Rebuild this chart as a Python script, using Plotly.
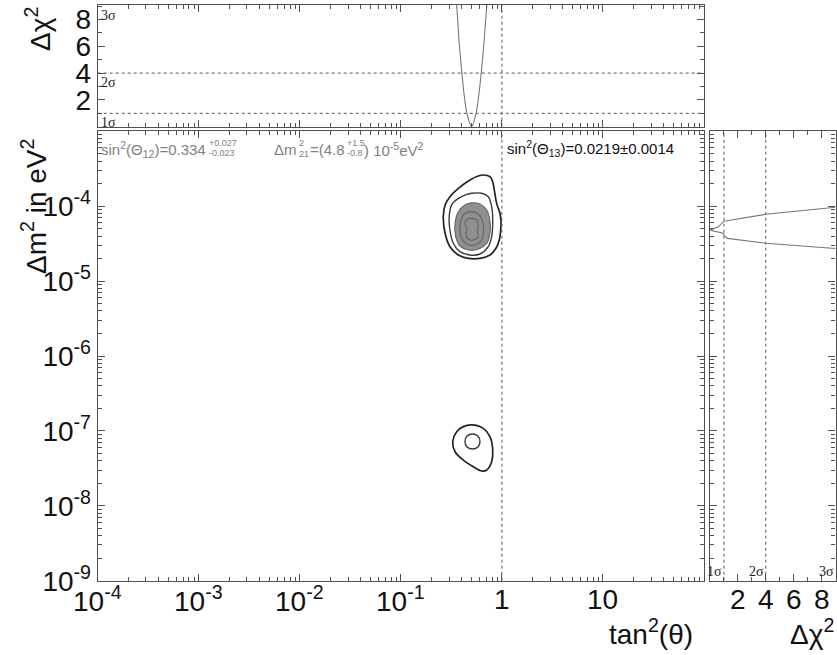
import math
import plotly.graph_objects as go

# ---- Δχ² profile versus tan²(θ) (top panel) ----
tan2_scan = [0.345, 0.357, 0.378, 0.402, 0.425, 0.451, 0.5015, 0.555, 0.588, 0.624, 0.664, 0.708, 0.725]
dchi2_tan = [10.0, 9.0, 6.25, 4.0, 2.25, 1.0, 0.0, 1.0, 2.25, 4.0, 6.25, 9.0, 10.0]

# ---- Δχ² profile versus Δm² (right panel) ----
dm2_scan = [2.72e-5, 3.2e-5, 3.72e-5, 4.0e-5, 4.35e-5, 4.8e-5, 5.3e-5, 5.9e-5, 6.3e-5, 7.8e-5, 9.7e-5]
dchi2_dm = [9.0, 4.0, 1.25, 1.05, 0.93, 0.0, 0.59, 0.83, 1.0, 4.0, 9.0]

# ---- allowed regions in the (tan²θ, Δm²) plane ----
# LMA island: outermost contour
c3_tan = [0.655, 0.762, 0.811, 0.841, 0.887, 0.957, 0.979, 0.973, 0.942, 0.875, 0.762, 0.607,
          0.465, 0.371, 0.306, 0.274, 0.263, 0.274, 0.306, 0.371, 0.483, 0.583, 0.655]
c3_dm = [2.61e-4, 2.48e-4, 2.12e-4, 1.64e-4, 1.09e-4, 8.04e-5, 6.21e-5, 4.81e-5, 3.54e-5, 2.74e-5,
         2.23e-5, 2.01e-5, 2.01e-5, 2.23e-5, 2.88e-5, 4.35e-5, 7.24e-5, 1.04e-4, 1.34e-4, 1.73e-4,
         2.24e-4, 2.53e-4, 2.61e-4]
# second contour
c2_tan = [0.502, 0.631, 0.733, 0.792, 0.811, 0.792, 0.733, 0.607, 0.483, 0.385, 0.330, 0.306,
          0.301, 0.318, 0.371, 0.449, 0.502]
c2_dm = [1.49e-4, 1.49e-4, 1.34e-4, 9.84e-5, 6.55e-5, 3.92e-5, 2.88e-5, 2.30e-5, 2.23e-5, 2.47e-5,
         3.20e-5, 4.81e-5, 7.24e-5, 1.04e-4, 1.27e-4, 1.44e-4, 1.49e-4]
# filled region
c1_tan = [0.502, 0.607, 0.708, 0.762, 0.762, 0.708, 0.583, 0.465, 0.385, 0.349, 0.344, 0.371, 0.431, 0.502]
c1_dm = [1.11e-4, 1.07e-4, 8.89e-5, 6.21e-5, 4.35e-5, 3.20e-5, 2.66e-5, 2.60e-5, 2.94e-5, 3.92e-5,
         5.92e-5, 8.45e-5, 1.04e-4, 1.11e-4]
# inner lines inside the filled region
ca_tan = [0.483, 0.583, 0.646, 0.655, 0.631, 0.542, 0.449, 0.400, 0.385, 0.400, 0.431, 0.483]
ca_dm = [8.45e-5, 7.87e-5, 6.21e-5, 4.57e-5, 3.54e-5, 3.03e-5, 3.13e-5, 3.72e-5, 5.07e-5, 6.89e-5, 8.04e-5, 8.45e-5]
cb_tan = [0.502, 0.564, 0.583, 0.571, 0.583, 0.521, 0.465, 0.442, 0.449, 0.431, 0.455, 0.502]
cb_dm = [6.89e-5, 6.55e-5, 5.32e-5, 4.57e-5, 3.92e-5, 3.54e-5, 3.61e-5, 4.12e-5, 5.07e-5, 5.92e-5, 6.68e-5, 6.89e-5]
# LOW island
lo_out_tan = [0.502, 0.655, 0.762, 0.811, 0.792, 0.708, 0.631, 0.521, 0.415, 0.344, 0.326, 0.357, 0.415, 0.502]
lo_out_dm = [1.20e-7, 1.08e-7, 8.37e-8, 5.56e-8, 3.88e-8, 3.01e-8, 2.92e-8, 3.33e-8, 4.08e-8, 5.27e-8,
             7.18e-8, 9.75e-8, 1.14e-7, 1.20e-7]
lo_in_tan = [0.512, 0.579, 0.607, 0.579, 0.512, 0.452, 0.431, 0.452, 0.512]
lo_in_dm = [9.1e-8, 8.55e-8, 7.21e-8, 6.1e-8, 5.73e-8, 6.1e-8, 7.21e-8, 8.55e-8, 9.1e-8]

# ---- reference levels and ticks ----
sigma_levels = [1, 4, 9]
sigma_names = ["1σ", "2σ", "3σ"]
x_tickvals = [1e-4, 1e-3, 1e-2, 1e-1, 1, 10]
x_ticktext = ["10<sup>-4</sup>", "10<sup>-3</sup>", "10<sup>-2</sup>", "10<sup>-1</sup>", "1", "10"]
y_tickvals = [1e-9, 1e-8, 1e-7, 1e-6, 1e-5, 1e-4]
y_ticktext = ["10<sup>-9</sup>", "10<sup>-8</sup>", "10<sup>-7</sup>", "10<sup>-6</sup>",
              "10<sup>-5</sup>", "10<sup>-4</sup>"]
chi_ticks = [2, 4, 6, 8]

W, H = 837, 655
FONT = "Liberation Sans, Arial, Helvetica, sans-serif"
SERIF = "Liberation Serif, Times New Roman, serif"
AX = "#505050"
INK = "#111111"


def px(xp):
    return xp / W


def py(yp):
    return 1 - yp / H


minor_x = [m * 10.0 ** e for e in range(-4, 2) for m in range(2, 10)]
minor_y = [m * 10.0 ** e for e in range(-9, -3) for m in range(2, 10)]

fig = go.Figure()

# main panel contours
fig.add_trace(go.Scatter(x=c1_tan, y=c1_dm, mode="lines", fill="toself", fillcolor="#8f8f8f",
                         line=dict(color="#6a6a6a", width=1.2, shape="spline"), xaxis="x", yaxis="y"))
for xs, ys, col, w in [(ca_tan, ca_dm, "#666666", 1.2), (cb_tan, cb_dm, "#666666", 1.2),
                       (c2_tan, c2_dm, "#3a3a3a", 1.4), (c3_tan, c3_dm, "#222222", 1.7),
                       (lo_out_tan, lo_out_dm, "#222222", 1.7), (lo_in_tan, lo_in_dm, "#3a3a3a", 1.4)]:
    fig.add_trace(go.Scatter(x=xs, y=ys, mode="lines", line=dict(color=col, width=w, shape="spline"),
                             xaxis="x", yaxis="y"))

dash = dict(color="#555555", width=1, dash="3px,3px")
# tan²θ = 1 in main and top panels
fig.add_trace(go.Scatter(x=[1, 1], y=[1e-9, 1e-3], mode="lines", line=dash, xaxis="x", yaxis="y"))
fig.add_trace(go.Scatter(x=[1, 1], y=[0, 9.1], mode="lines", line=dash, xaxis="x2", yaxis="y2"))
# σ levels
for lv in sigma_levels[:2]:
    fig.add_trace(go.Scatter(x=[1e-4, 1e2], y=[lv, lv], mode="lines", line=dash, xaxis="x2", yaxis="y2"))
    fig.add_trace(go.Scatter(x=[lv, lv], y=[1e-9, 1e-3], mode="lines", line=dash, xaxis="x3", yaxis="y3"))

# Δχ² profiles
fig.add_trace(go.Scatter(x=tan2_scan, y=dchi2_tan, mode="lines",
                         line=dict(color="#777777", width=1.1, shape="spline"), xaxis="x2", yaxis="y2"))
fig.add_trace(go.Scatter(x=dchi2_dm, y=dm2_scan, mode="lines",
                         line=dict(color="#777777", width=1.1), xaxis="x3", yaxis="y3"))

common = dict(showgrid=False, zeroline=False, showline=True, linecolor=AX, linewidth=1.2,
              ticks="inside", tickcolor=AX, ticklen=7, tickwidth=1, mirror="allticks",
              automargin=False, tickfont=dict(family=FONT, size=28, color=INK))
minor_common = dict(ticks="inside", ticklen=4, tickcolor=AX, tickwidth=1, showgrid=False)

main_dom_x = [px(97.7), px(704)]
main_dom_y = [py(580.7), py(131.3)]

fig.update_layout(
    width=W, height=H, autosize=False, margin=dict(l=0, r=0, t=0, b=0, pad=0, autoexpand=False),
    paper_bgcolor="white", plot_bgcolor="white", showlegend=False,
    xaxis=dict(common, type="log", range=[-4, 2], domain=main_dom_x, anchor="y",
               tickvals=x_tickvals, showticklabels=False,
               minor=dict(minor_common, tickvals=minor_x)),
    yaxis=dict(common, type="log", range=[-9, -3], domain=main_dom_y, anchor="x",
               tickvals=y_tickvals, ticktext=y_ticktext,
               minor=dict(minor_common, tickvals=minor_y)),
    xaxis2=dict(common, type="log", range=[-4, 2], domain=main_dom_x, anchor="y2",
                showticklabels=False, tickvals=x_tickvals,
                minor=dict(minor_common, tickvals=minor_x)),
    yaxis2=dict(common, range=[0, 9.08], domain=[py(126.7), py(5)], anchor="x2",
                tickvals=chi_ticks, minor=dict(minor_common, tickvals=[1, 3, 5, 7, 9])),
    xaxis3=dict(common, range=[0, 9], domain=[px(710), px(835.5)], anchor="y3",
                tickvals=chi_ticks, showticklabels=False,
                minor=dict(minor_common, tickvals=[1, 3, 5, 7, 9])),
    yaxis3=dict(common, type="log", range=[-9, -3], domain=main_dom_y, anchor="x3",
                showticklabels=False, tickvals=y_tickvals,
                minor=dict(minor_common, tickvals=minor_y)),
)

ann = []


def text(x, y, s, size, color=INK, family=FONT, xanchor="left", yanchor="middle", angle=0):
    ann.append(dict(x=px(x), y=py(y), xref="paper", yref="paper", text=s, showarrow=False,
                    xanchor=xanchor, yanchor=yanchor, textangle=angle, borderpad=0,
                    font=dict(family=family, size=size, color=color)))


# bottom tick labels, placed through the axis scales (log axes take log10 positions)
LABEL_Y = py(599)
for v, t in zip(x_tickvals, x_ticktext):
    ann.append(dict(x=math.log10(v), y=LABEL_Y, xref="x", yref="paper", text=t, showarrow=False,
                    xanchor="center", yanchor="middle", borderpad=0,
                    font=dict(family=FONT, size=28, color=INK)))
for v in chi_ticks:
    ann.append(dict(x=v, y=LABEL_Y, xref="x3", yref="paper", text=str(v), showarrow=False,
                    xanchor="center", yanchor="middle", borderpad=0,
                    font=dict(family=FONT, size=28, color=INK)))

# axis titles
text(651, 632, "tan<sup>2</sup>(θ)", 28, xanchor="center")
text(812, 632, "Δχ<sup>2</sup>", 28, xanchor="center")
text(38, 29, "Δχ<sup>2</sup>", 28, xanchor="center", angle=-90)
text(34, 207, "Δm<sup>2</sup> in eV<sup>2</sup>", 28, xanchor="center", angle=-90)

# fit results
grey = "#808080"
text(207, 150, "sin<sup>2</sup>(Θ<sub>12</sub>)=0.334", 15, grey, xanchor="right")
text(208, 143, "+0.027", 9, grey)
text(208, 153, "-0.023", 9, grey)
text(298, 150, "Δm", 15, grey, xanchor="right")
text(298, 143, "2", 9, grey)
text(298, 154, "21", 9, grey)
text(309, 150, "=(4.8", 15, grey)
text(346, 143, "+1.5", 9, grey)
text(346, 153, "-0.8", 9, grey)
text(363, 150, ") 10<sup>-5</sup>eV<sup>2</sup>", 15, grey)
text(506, 148, "sin<sup>2</sup>(Θ<sub>13</sub>)=0.0219±0.0014", 15, INK)

# σ labels
for lv, nm in zip(sigma_levels, sigma_names):
    ann.append(dict(x=0.002, y=lv, xref="x2 domain", yref="y2", text=nm, showarrow=False,
                    xanchor="left", yanchor="top", font=dict(family=SERIF, size=14, color="#222222")))
    ann.append(dict(x=lv, y=0.0, xref="x3", yref="y3 domain", text=nm, showarrow=False,
                    xanchor="right", yanchor="bottom", font=dict(family=SERIF, size=14, color="#222222")))

fig.update_layout(annotations=ann)

# page chrome: the figure fills the page exactly
page_style = ("document.documentElement.style.margin='0';document.body.style.margin='0';"
              "document.documentElement.style.overflow='hidden';document.body.style.overflow='hidden';")
fig.write_html("out.html", post_script=page_style)
